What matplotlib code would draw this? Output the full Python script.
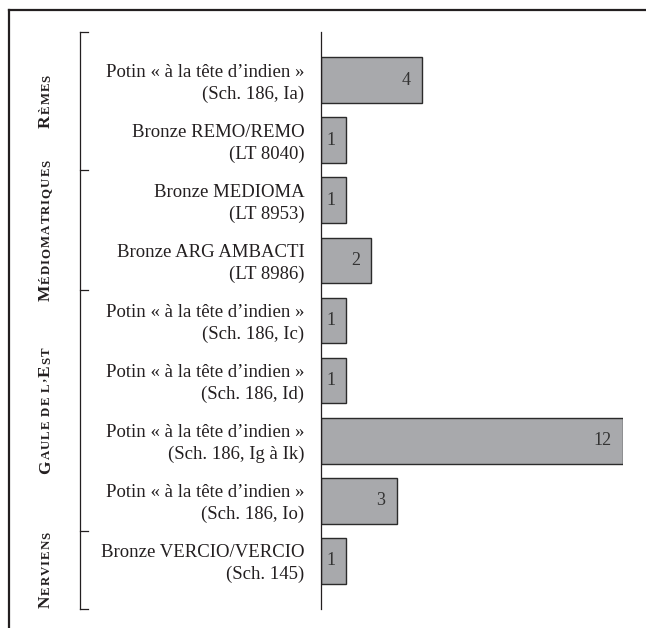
import matplotlib
matplotlib.use('Agg')
import matplotlib.pyplot as plt
from matplotlib.lines import Line2D
from matplotlib.transforms import blended_transform_factory, ScaledTranslation

# ---- data ----
item_line1 = [
    "Potin « à la tête d’indien »",
    "Bronze REMO/REMO",
    "Bronze MEDIOMA",
    "Bronze ARG AMBACTI",
    "Potin « à la tête d’indien »",
    "Potin « à la tête d’indien »",
    "Potin « à la tête d’indien »",
    "Potin « à la tête d’indien »",
    "Bronze VERCIO/VERCIO",
]
item_line2 = [
    "(Sch. 186, Ia)",
    "(LT 8040)",
    "(LT 8953)",
    "(LT 8986)",
    "(Sch. 186, Ic)",
    "(Sch. 186, Id)",
    "(Sch. 186, Ig à Ik)",
    "(Sch. 186, Io)",
    "(Sch. 145)",
]
counts = [4, 1, 1, 2, 1, 1, 12, 3, 1]
group_names = ["Rèmes", "Médiomatriques", "Gaule de l’Est", "Nerviens"]
group_sizes = [2, 2, 4, 1]

# ---- style ----
SERIF = ['Liberation Serif', 'DejaVu Serif']
TXT = '#231f20'
W, H = 646, 628

fig = plt.figure(figsize=(W / 100, H / 100), dpi=100)
fig.patch.set_facecolor('white')
ax = fig.add_axes([321 / W, (H - 609) / H, 302 / W, 577 / H])
ax.patch.set_alpha(0)

ypos = list(range(len(counts)))
ax.barh(ypos, counts, height=0.76, color='#a8a9ac', edgecolor='#2b2b2b', linewidth=1.0)
ax.set_xlim(0, 12)
ax.set_ylim(len(counts) - 0.2, -0.8)
for s in ['top', 'right', 'bottom']:
    ax.spines[s].set_visible(False)
ax.spines['left'].set_linewidth(0.9)
ax.spines['left'].set_color('#231f20')
ax.set_xticks([])
ax.set_yticks(ypos)
ax.set_yticklabels([f"{a}\n{b}" for a, b in zip(item_line1, item_line2)],
                   fontsize=13.5, family=SERIF, color=TXT, linespacing=1.35)
ax.tick_params(axis='y', length=0, pad=12)
shift = ScaledTranslation(0, -3 / 100, fig.dpi_scale_trans)
for lab in ax.get_yticklabels():
    lab.set_verticalalignment('center')
    lab.set_transform(lab.get_transform() + shift)

for yi, v in zip(ypos, counts):
    ax.annotate(str(v), xy=(v, yi), xytext=(-11, 0), textcoords='offset pixels',
                ha='right', va='center', fontsize=13, family=SERIF, color='#333333')

# ---- bracket ----
trans = blended_transform_factory(fig.transFigure, ax.transData)
ytop, ybot = ax.get_ylim()[1], ax.get_ylim()[0]
bounds = [ytop]
acc = 0
for n in group_sizes[:-1]:
    acc += n
    bounds.append(acc - 0.5)
bounds.append(ybot)
xb, xt = 80 / W, 88 / W
ax.plot([xb, xb], [ytop, ybot], transform=trans, clip_on=False, color='#231f20', lw=0.9)
for b in bounds:
    ax.plot([xb, xt], [b, b], transform=trans, clip_on=False, color='#231f20', lw=0.9)

# ---- outer frame (top & left visible) ----
fig.add_artist(Line2D([9 / W, 1], [1 - 10 / H, 1 - 10 / H], transform=fig.transFigure,
                      color='#231f20', lw=1.6))
fig.add_artist(Line2D([9 / W, 9 / W], [0, 1 - 10 / H], transform=fig.transFigure,
                      color='#231f20', lw=1.6))

# ---- group labels in small caps (letter by letter, with tracking) ----
BIG, SMALL = 12.5, 9.3
XBASE = 50
GAP = 1.0

fig.canvas.draw()
renderer = fig.canvas.get_renderer()
groups_txt = []
for gi, name in enumerate(group_names):
    yc = (bounds[gi] + bounds[gi + 1]) / 2
    texts = []
    prev = None
    for ch in name:
        size = BIG if ch.isupper() else SMALL
        kw = dict(rotation=90, rotation_mode='anchor', ha='left', va='baseline',
                  fontsize=size, fontweight='bold', family=SERIF, color=TXT)
        if prev is None:
            t = ax.annotate(ch.upper(), xy=(XBASE, 0), xycoords='figure pixels', **kw)
        else:
            t = ax.annotate(ch.upper(), xy=(XBASE, 1), xycoords=('figure pixels', prev),
                            xytext=(0, GAP), textcoords='offset pixels', **kw)
        texts.append(t)
        prev = t
    groups_txt.append((texts, yc))

fig.canvas.draw()
for texts, yc in groups_txt:
    bb0 = texts[0].get_window_extent(renderer)
    bbn = texts[-1].get_window_extent(renderer)
    L = bbn.y1 - bb0.y0
    ycd = ax.transData.transform((0, yc))[1]
    texts[0].xy = (XBASE, ycd - L / 2)
    texts[0].xyann = (XBASE, ycd - L / 2)

fig.savefig('out.png', dpi=100, facecolor='white')
